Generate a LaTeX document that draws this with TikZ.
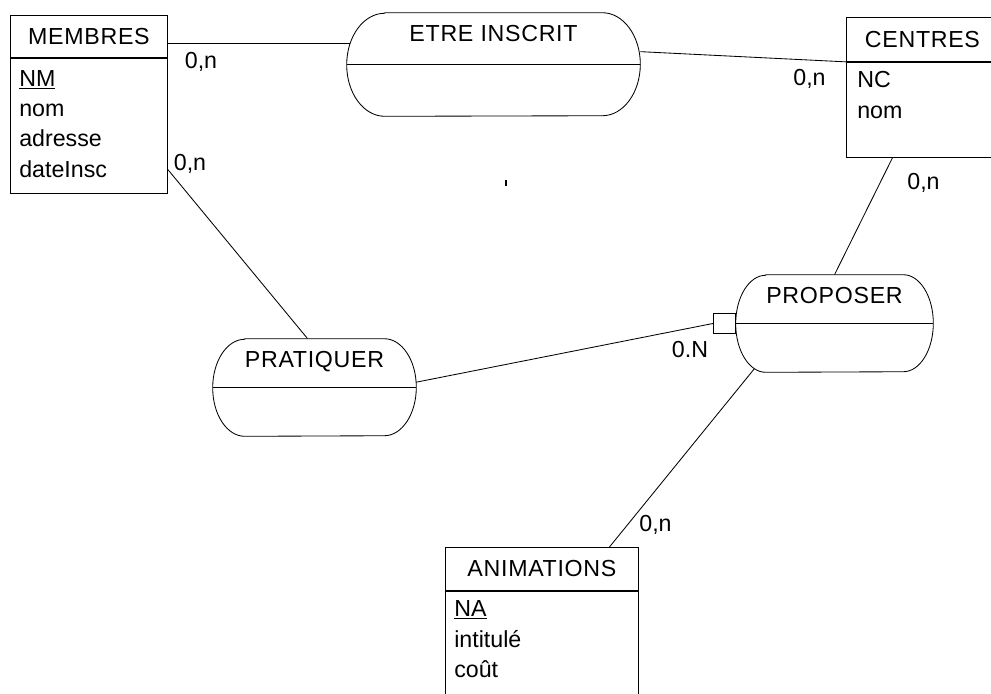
\documentclass[tikz,border=0pt]{standalone}
\usepackage{fontspec}
\setmainfont{Liberation Sans}
\newfontfamily\titlefont[LetterSpace=3]{Liberation Sans}
\usetikzlibrary{positioning,backgrounds}

\tikzset{
    entity/.style={draw, fill=white, line width=0.6pt, inner sep=0pt},
    relation/.style={inner sep=0pt},
    title/.style={font=\fontsize{16.5}{19}\titlefont},
    attr/.style={anchor=base west, inner sep=0pt},
    card/.style={anchor=base, inner sep=0pt},
    link/.style={line width=0.6pt}
}

% outline of a relation: #1 node, #2 end radius, #3 half height
\newcommand{\relshape}[3]{%
    \draw[link, fill=white] ([xshift=#2]#1.north west) -- ([xshift=-#2]#1.north east)
        arc[start angle=90, end angle=-90, x radius=#2, y radius=#3]
        -- ([xshift=#2]#1.south west)
        arc[start angle=270, end angle=90, x radius=#2, y radius=#3] -- cycle;
    \draw[link] (#1.west) -- (#1.east);
}

\begin{document}
\begin{tikzpicture}[x=0.025cm, y=-0.025cm, font=\fontsize{16.5}{19}\selectfont]
    % Page size
    \useasboundingbox (0,0) rectangle (991,693);
    \clip (0,0) rectangle (991,693);

    % Entities
    \node[entity, title, anchor=north west, minimum width=3.925cm, minimum height=1.05cm] (membres) at (10,15) {MEMBRES};
    \node[entity, below=0pt of membres, minimum width=3.925cm, minimum height=3.375cm] (membres-body) {};
    \node[entity, title, anchor=north west, minimum width=3.8cm, minimum height=1.1cm] (centres) at (846,17) {CENTRES};
    \node[entity, below=0pt of centres, minimum width=3.8cm, minimum height=2.375cm] (centres-body) {};
    \node[entity, title, anchor=north west, minimum width=4.825cm, minimum height=1.075cm] (animations) at (445,547) {ANIMATIONS};
    \node[entity, below=0pt of animations, minimum width=4.825cm, minimum height=2.75cm] (animations-body) {};

    % Attributes
    \node[attr] (membres-nm) at (19,86) {\underline{NM}};
    \node[attr] (membres-nom) at (19,116) {nom};
    \node[attr] (membres-adr) at (19,146) {adresse};
    \node[attr] (membres-date) at (19,177) {dateInsc};
    \node[attr] (centres-nc) at (857,87) {NC};
    \node[attr] (centres-nom) at (857,118) {nom};
    \node[attr] (animations-na) at (454,616) {\underline{NA}};
    \node[attr] (animations-int) at (454,647) {intitulé};
    \node[attr] (animations-cout) at (454,677) {coût};

    % Relations
    \node[relation, minimum width=7.325cm, minimum height=2.575cm] (etre) at (493.5,64.5) {};
    \relshape{etre}{0.95cm}{1.2875cm}
    \node[title, below=0.3cm of etre.north, inner sep=0pt] (etre-title) {ETRE INSCRIT};

    \node[relation, minimum width=5.075cm, minimum height=2.425cm] (pratiquer) at (314.5,387.5) {};
    \relshape{pratiquer}{0.8cm}{1.2125cm}
    \node[title, below=0.3cm of pratiquer.north, inner sep=0pt] (pratiquer-title) {PRATIQUER};

    \node[relation, minimum width=4.925cm, minimum height=2.425cm] (proposer) at (834.5,323.5) {};
    \relshape{proposer}{0.75cm}{1.2125cm}
    \node[title, below=0.3cm of proposer.north, inner sep=0pt] (proposer-title) {PROPOSER};
    \node[entity, left=0pt of proposer, minimum width=0.55cm, minimum height=0.5cm] (proposer-port) {};

    % Links
    \begin{pgfonlayer}{background}
        \draw[link] (membres.-5) -- (membres.-5 -| etre.center);
        \draw[link] (etre.5) -- (centres.south west);
        \draw[link] (centres-body.238) -- (proposer.north);
        \draw[link] (membres-body.-29) -- (pratiquer.98);
        \draw[link] (pratiquer.3) -- (proposer-port.west);
        \draw[link] (animations.18) -- ([shift={(32,-20)}]proposer.south west);
    \end{pgfonlayer}

    % Cardinalities
    \node[card] (card-me) at (201,68) {0,n};
    \node[card] (card-mp) at (190,170) {0,n};
    \node[card] (card-ce) at (809.5,85) {0,n};
    \node[card] (card-cp) at (923.5,189) {0,n};
    \node[card] (card-pp) at (690,357) {0.N};
    \node[card] (card-ap) at (655.5,531) {0,n};

    % Stray mark
    \draw[line width=0.05cm] (506,180) -- (506,186);
\end{tikzpicture}
\end{document}
